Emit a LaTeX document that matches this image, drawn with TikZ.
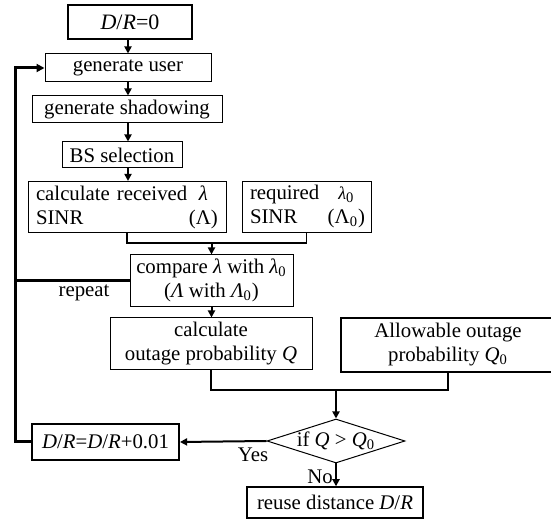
\documentclass[tikz,border=0pt]{standalone}
\usepackage{fontspec}
\setmainfont{Liberation Serif}
\usetikzlibrary{arrows.meta,shapes.geometric}

\tikzset{
  box/.style={draw,line width=0.5pt,inner sep=2pt,align=center},
  thickbox/.style={box,line width=1pt},
  arr/.style={line width=1pt,-{Triangle[length=3.6pt,width=3.6pt]}},
  link/.style={line width=0.6pt},
  loopline/.style={line width=1.5pt},
}

\begin{document}
\begin{tikzpicture}[x=0.5pt,y=-0.5pt,font=\fontsize{10.4}{12}\selectfont]
\clip (0,0) rectangle (551,522);
% boxes of the main column
\node[thickbox,minimum width=62pt,minimum height=17pt,font=\fontsize{11}{13}\selectfont] (init) at (130,22) {\textit{D}/\textit{R}=0};
\node[box,minimum width=83pt,minimum height=14pt] (genuser) at (128,68) {generate user};
\node[box,minimum width=95pt,minimum height=13.5pt] (genshadow) at (127,109.5) {generate shadowing};
\node[box,minimum width=60pt,minimum height=13pt] (bssel) at (122,155) {BS selection};
\node[box,inner xsep=4pt,text width=91pt,minimum height=24pt,align=left] (calcsinr) at (127,207) {calculate received\hfill\makebox[1.4em]{\textit{λ}}\\SINR\hfill\makebox[1.4em]{(Λ)}};
\node[box,inner xsep=4pt,text width=56.5pt,minimum height=24pt,align=left] (required) at (306.5,207) {required\hfill\makebox[1.6em]{{\small\textit{λ}}\textsubscript{0}}\\SINR\hfill\makebox[1.6em]{(Λ\textsubscript{0})}};
\node[box,minimum width=81.5pt,minimum height=22.5pt] (compare) at (211.5,280.5) {compare \textit{λ} with \textit{λ}\textsubscript{0}\\(\textit{Λ} with \textit{Λ}\textsubscript{0})};
\node[box,minimum width=101pt,minimum height=26pt] (calcout) at (211,344) {calculate\\outage probability \textit{Q}};
\node[thickbox,minimum width=107pt,minimum height=27pt] (allow) at (448,345) {Allowable outage\\probability \textit{Q}\textsubscript{0}};
\node[draw,diamond,aspect=3.1,inner sep=0pt,minimum width=69pt,minimum height=22pt,line width=0.5pt] (test) at (336,441) {if \textit{Q} > \textit{Q}\textsubscript{0}};
\node[thickbox,minimum width=73.5pt,minimum height=18pt] (incr) at (105.5,442) {\textit{D}/\textit{R}=\textit{D}/\textit{R}+0.01};
\node[box,line width=0.7pt,minimum width=88pt,minimum height=15.5pt] (reuse) at (335,502.5) {reuse distance \textit{D}/\textit{R}};
% labels
\node (repeatlbl) at (84,293) {repeat};
\node (yeslbl) at (253,455) {Yes};
\node (nolbl) at (320,477) {No};
% connectors
\draw[arr] (genuser.north |- init.south) -- (genuser.north);
\draw[arr] (genuser.south) -- (genuser.south |- genshadow.north);
\draw[arr] (genuser.south |- genshadow.south) -- (genuser.south |- bssel.north);
\draw[arr] (genuser.south |- bssel.south) -- (genuser.south |- calcsinr.north);
\coordinate (join1) at (211.5,243);
\draw[link] (calcsinr.south) |- (join1) -| (required.south);
\draw[arr] (join1) -- (compare.north);
\draw[arr] (compare.south) -- (compare.south |- calcout.north);
\coordinate (join2) at (336,390);
\draw[link] (calcout.south) |- (join2) -| (allow.south);
\draw[arr] (join2) -- (test.north);
\draw[arr] (test.west) -- (incr.east);
\draw[arr] (test.south) -- (test.south |- reuse.north);
% feedback loop
\coordinate (loopx) at (15,442);
\draw[loopline,-{Triangle[length=4pt,width=4pt]}] (incr.west) -- (loopx) |- (genuser.west);
\draw[loopline] (compare.west) -- (compare.west -| loopx);
\end{tikzpicture}
\end{document}
